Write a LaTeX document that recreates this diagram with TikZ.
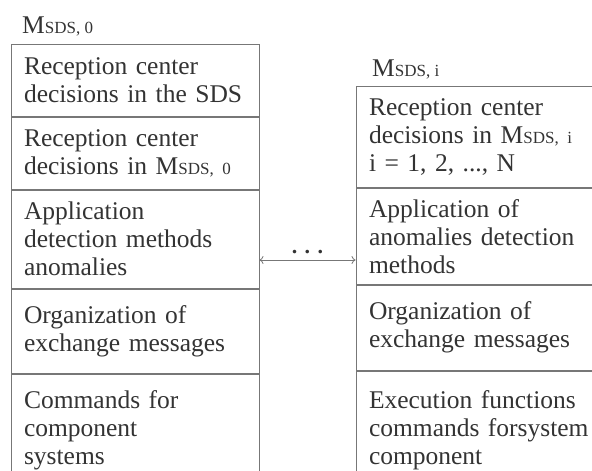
\documentclass[tikz,border=0pt]{standalone}
\usepackage{fontspec}
\setmainfont{Liberation Serif}
\usetikzlibrary{positioning,arrows.meta}
\definecolor{textgray}{HTML}{333333}
\definecolor{linegray}{HTML}{777777}
\newcommand{\msds}[1]{M{\fontsize{17}{17}\selectfont SDS, #1}}
\tikzset{
  cell/.style={draw=linegray, line width=0.9pt, text=textgray, anchor=north,
    text width=222pt, inner xsep=13pt, inner ysep=0pt, align=left,
    font=\fontsize{25.5}{28}\selectfont},
  rcell/.style={cell, text width=236pt},
  title/.style={anchor=base west, inner sep=0pt, text=textgray,
    font=\fontsize{25.5}{28}\selectfont}
}
\begin{document}
\begin{tikzpicture}[x=1pt, y=1pt]
  \useasboundingbox (0,0) rectangle (592,-471);
  % left module
  \node[title] (t0) at (22,-33) {\msds{0}};
  \node[cell, minimum height=72pt] (l1) at (135,-44)
    {Reception center\\decisions in the SDS};
  \node[cell, minimum height=72pt, below=0pt of l1] (l2)
    {Reception center\\decisions in \msds{0}};
  \node[cell, minimum height=98pt, below=0pt of l2] (l3)
    {Application\\detection methods\\anomalies};
  \node[cell, minimum height=84pt, below=0pt of l3] (l4)
    {Organization of\\exchange messages};
  \node[cell, minimum height=112pt, below=0pt of l4] (l5)
    {Commands for\\component\\systems};
  % right module
  \node[title] (ti) at (372,-76) {\msds{i}};
  \node[rcell, minimum height=101pt] (r1) at (487,-86)
    {Reception center\\decisions in \msds{i}\\i = 1, 2, ..., N};
  \node[rcell, minimum height=96pt, below=0pt of r1] (r2)
    {Application of\\anomalies detection\\methods};
  \node[rcell, minimum height=85pt, below=0pt of r2] (r3)
    {Organization of\\exchange messages};
  \node[rcell, minimum height=118pt, below=0pt of r3] (r4)
    {Execution functions\\commands forsystem\\component};
  % link
  \node[anchor=base, inner sep=0pt, text=textgray,
    font=\fontsize{22}{22}\selectfont\bfseries] (dots) at (307.5,-253) {. . .};
  \coordinate (ay) at (0,-260);
  \draw[{To[length=4pt,width=8pt]}-{To[length=4pt,width=8pt]}, linegray,
    line width=0.8pt] (l3.east |- ay) -- (r2.west |- ay);
\end{tikzpicture}
\end{document}
